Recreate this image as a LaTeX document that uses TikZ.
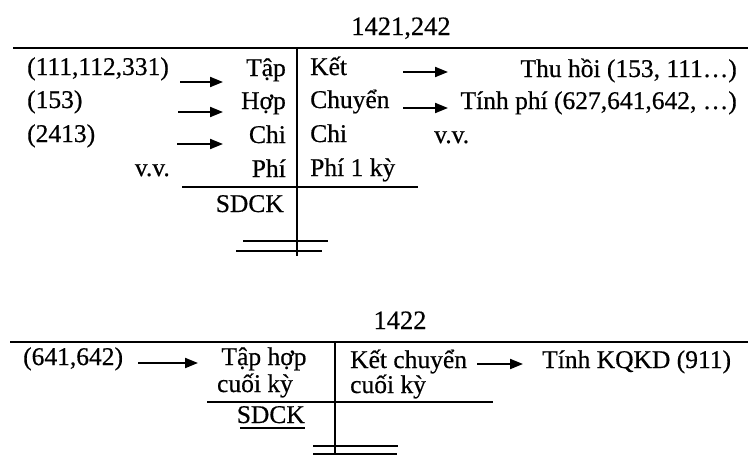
\documentclass[tikz,border=0pt]{standalone}
\usepackage{fontspec}
\setmainfont[FakeBold=0.5]{Liberation Serif}
\usetikzlibrary{arrows.meta}
\begin{document}
\begin{tikzpicture}[x=1pt,y=-1pt,
  txt/.style={inner sep=0pt,font=\fontsize{25.5}{28}\selectfont},
  ttl/.style={inner sep=0pt,font=\fontsize{26.5}{30}\selectfont},
  rule/.style={line width=1.7pt},
  arr/.style={line width=2pt,-{Triangle[length=13pt,width=10pt]}}]
\useasboundingbox (0,0) rectangle (748,455);

% ---------- account 1421,242 ----------
\node[ttl,anchor=base] (t1) at (401,35) {1421,242};
\coordinate (h1a) at (13,48);  \coordinate (h1b) at (748,48);
\coordinate (v1a) at (297,48); \coordinate (v1b) at (297,256);
\draw[rule] (h1a) -- (h1b);
\draw[rule] (v1a) -- (v1b);

\node[txt,anchor=base west] (a1) at (27,75)  {(111,112,331)};
\node[txt,anchor=base west] (a2) at (27,108) {(153)};
\node[txt,anchor=base west] (a3) at (27,142) {(2413)};
\node[txt,anchor=base east] (a4) at (170,176) {v.v.};

\node[txt,anchor=base east] (b1) at (286,76)  {Tập};
\node[txt,anchor=base east] (b2) at (286,109) {Hợp};
\node[txt,anchor=base east] (b3) at (286,143) {Chi};
\node[txt,anchor=base east] (b4) at (286,177) {Phí};

\node[txt,anchor=base west] (c1) at (310,75)  {Kết};
\node[txt,anchor=base west] (c2) at (310,108) {Chuyển};
\node[txt,anchor=base west] (c3) at (310,142) {Chi};
\node[txt,anchor=base west] (c4) at (310,176) {Phí 1 kỳ};

\node[txt,anchor=base east] (d1) at (737,77)  {Thu hồi (153, 111…)};
\node[txt,anchor=base east] (d2) at (737,109) {Tính phí (627,641,642, …)};
\node[txt,anchor=base west] (d3) at (434,143) {v.v.};

\coordinate (p1s) at (180,82);  \coordinate (p1e) at (223,82);
\coordinate (p2s) at (178,112); \coordinate (p2e) at (223,112);
\coordinate (p3s) at (177,144); \coordinate (p3e) at (223,144);
\coordinate (q1s) at (403,72);  \coordinate (q1e) at (448,72);
\coordinate (q2s) at (403,108); \coordinate (q2e) at (448,108);
\draw[arr] (p1s) -- (p1e);
\draw[arr] (p2s) -- (p2e);
\draw[arr] (p3s) -- (p3e);
\draw[arr] (q1s) -- (q1e);
\draw[arr] (q2s) -- (q2e);

\coordinate (m1a) at (182,187); \coordinate (m1b) at (418,187);
\draw[rule] (m1a) -- (m1b);
\node[txt,anchor=base east] (s1) at (284,212) {SDCK};
\coordinate (e1a) at (243,241); \coordinate (e1b) at (328,241);
\coordinate (e2a) at (236,251); \coordinate (e2b) at (322,251);
\draw[rule] (e1a) -- (e1b);
\draw[rule] (e2a) -- (e2b);

% ---------- account 1422 ----------
\node[ttl,anchor=base] (t2) at (400,329) {1422};
\coordinate (h2a) at (10,342);  \coordinate (h2b) at (748,342);
\coordinate (v2a) at (335,342); \coordinate (v2b) at (335,455);
\draw[rule] (h2a) -- (h2b);
\draw[rule] (v2a) -- (v2b);

\node[txt,anchor=base west] (f0) at (23,365) {(641,642)};
\node[txt,anchor=base] (f1) at (264,365) {Tập hợp};
\node[txt,anchor=base] (f2) at (255,392) {cuối kỳ};
\node[txt,anchor=base west] (g1) at (350,368) {Kết chuyển};
\node[txt,anchor=base west] (g2) at (350,393) {cuối kỳ};
\node[txt,anchor=base west] (k1) at (542,368) {Tính KQKD (911)};

\coordinate (r1s) at (138,363); \coordinate (r1e) at (198,363);
\coordinate (r2s) at (477,364); \coordinate (r2e) at (523,364);
\draw[arr] (r1s) -- (r1e);
\draw[arr] (r2s) -- (r2e);

\coordinate (m2a) at (207,402); \coordinate (m2b) at (493,402);
\draw[rule] (m2a) -- (m2b);
\node[txt,anchor=base east] (s2) at (305,423) {SDCK};
\coordinate (u2a) at (240,428); \coordinate (u2b) at (305,428);
\draw[line width=1.3pt] (u2a) -- (u2b);
\coordinate (e3a) at (313,446); \coordinate (e3b) at (398,446);
\coordinate (e4a) at (313,454); \coordinate (e4b) at (397,454);
\draw[rule] (e3a) -- (e3b);
\draw[rule] (e4a) -- (e4b);
\end{tikzpicture}
\end{document}
